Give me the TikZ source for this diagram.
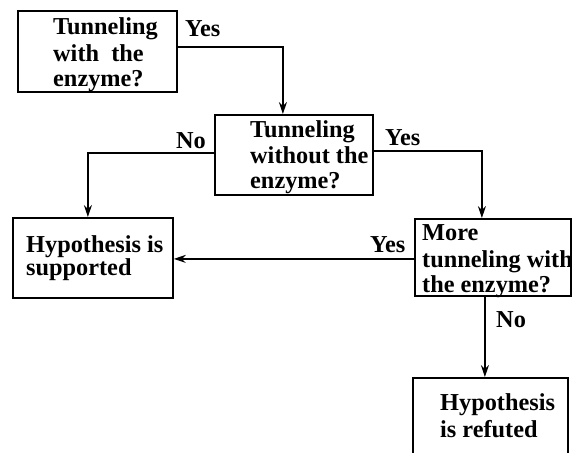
\documentclass[tikz,border=0pt]{standalone}
\usepackage{fontspec}
\setmainfont{Liberation Serif}
\usetikzlibrary{arrows.meta}
\begin{document}
\begin{tikzpicture}[x=1pt,y=-1pt,
  box/.style={draw,line width=1.8pt,inner sep=0pt,anchor=north west},
  txt/.style={anchor=base west,inner sep=0pt,font=\fontsize{24.3}{26}\selectfont\bfseries},
  lbl/.style={anchor=base west,inner sep=0pt,font=\fontsize{24.3}{26}\selectfont\bfseries},
  conn/.style={line width=1.4pt,-{Stealth[length=12pt,width=8pt]}}]
\clip (0,0) rectangle (572,452);
\fill[white] (0,0) rectangle (572,452);
% boxes
\node[box,minimum width=159pt,minimum height=81pt] (b1) at (17,10) {};
\node[box,minimum width=158pt,minimum height=80pt] (b2) at (214,114) {};
\node[box,minimum width=160pt,minimum height=80pt] (b3) at (12,217) {};
\node[box,minimum width=156pt,minimum height=77pt] (b4) at (414,218) {};
\node[box,minimum width=155pt,minimum height=100pt] (b5) at (412,377) {};
% texts
\node[txt] (t11) at (53,35) {Tunneling};
\node[txt] (t12) at (53,62) {with\ \ the};
\node[txt] (t13) at (53,86) {enzyme?};
\node[txt] (t21) at (250,137) {Tunneling};
\node[txt] (t22) at (250,163) {without the};
\node[txt] (t23) at (250,188) {enzyme?};
\node[txt] (t31) at (26,252) {Hypothesis is};
\node[txt] (t32) at (26,275) {supported};
\node[txt] (t41) at (422,240) {More};
\node[txt] (t42) at (422,267) {tunneling with};
\node[txt] (t43) at (422,292) {the enzyme?};
\node[txt] (t51) at (440,410) {Hypothesis};
\node[txt] (t52) at (440,437) {is refuted};
% labels
\node[lbl] (l1) at (185,37) {Yes};
\node[lbl] (l2) at (176,148) {No};
\node[lbl] (l3) at (385,145) {Yes};
\node[lbl] (l4) at (370,252) {Yes};
\node[lbl] (l5) at (496,327) {No};
% connectors
\draw[conn] ([yshift=4.5pt]b1.east) -| ([xshift=-11pt]b2.north);
\draw[conn] ([yshift=2pt]b2.west) -| ([xshift=-5pt]b3.north);
\draw[conn] ([yshift=4pt]b2.east) -| ([xshift=-11pt]b4.north);
\draw[conn] ([yshift=-1.5pt]b4.west) -- ([yshift=-1.5pt]b4.west -| b3.east);
\draw[conn] ([xshift=-8pt]b4.south) coordinate (p) -- (p |- b5.north);
\end{tikzpicture}
\end{document}
